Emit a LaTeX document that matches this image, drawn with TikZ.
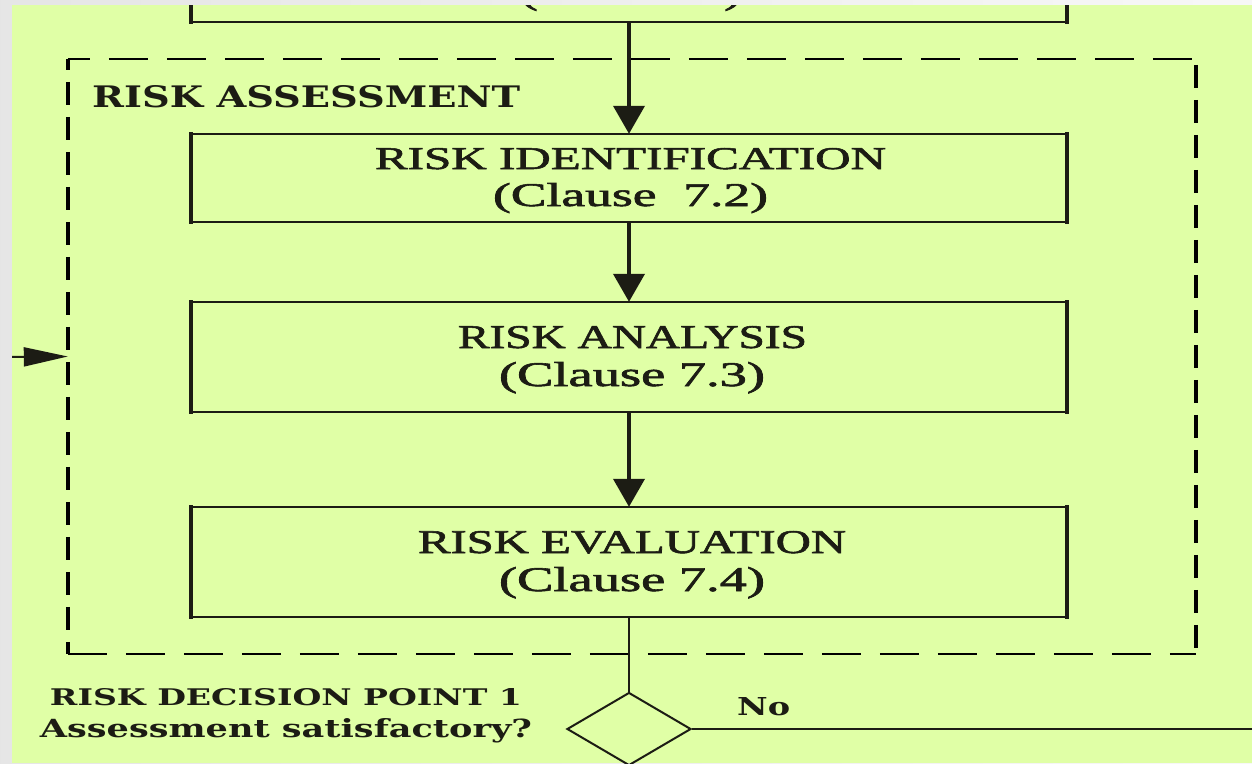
\documentclass[tikz,border=0pt]{standalone}
\usepackage{fontspec}
\usepackage{graphicx}
\setmainfont{Liberation Serif}[FakeBold=1.6]
\newfontfamily\labelfont{DejaVu Serif}
\usetikzlibrary{arrows.meta,shapes.geometric}

\definecolor{bg}{RGB}{224,255,166}
\definecolor{ink}{RGB}{28,28,20}

% stretch a text to a given width and height (in pt)
\newcommand\fitbox[3]{\resizebox{#1pt}{#2pt}{#3}}

% frame of a process box: horizontal sides thinner than vertical ones
\newcommand\stageframe[1]{%
  \draw[ink, line width=2.5pt, line cap=rect] (#1.north west) -- (#1.north east)
                                              (#1.south west) -- (#1.south east);
  \draw[ink, line width=3.5pt, line cap=rect] (#1.north west) -- (#1.south west)
                                              (#1.north east) -- (#1.south east);}

\tikzset{
  stage/.style={rectangle, draw=none, minimum width=876pt, inner sep=0pt},
  txt/.style={inner sep=0pt, anchor=base, text=ink},
  flow/.style={draw=ink, line width=4pt, -{Triangle[length=28pt,width=31pt]}},
  thinrule/.style={draw=ink, line width=2.5pt},
  hdash/.style={draw=black, line width=2pt, dash pattern=on 39pt off 19pt},
  vdash/.style={draw=black, line width=4pt, dash pattern=on 23pt off 12pt},
}

\begin{document}
\begin{tikzpicture}[x=1pt, y=-1pt]
\useasboundingbox (0,0) rectangle (1252,763);
\shade[left color=gray!20, right color=gray!6] (0,0) rectangle (1252,763);
\fill[bg] (12,5) rectangle (1252,763);

\begin{scope}
\clip (12,5) rectangle (1252,763);

% process boxes
\node[stage, minimum height=88pt]  (ctx) at (629,-22) {};
\node[stage, minimum height=88pt]  (id)  at (629,178) {};
\node[stage, minimum height=110pt] (an)  at (629,357) {};
\node[stage, minimum height=110pt] (ev)  at (629,562) {};
\stageframe{ctx}
\stageframe{id}
\stageframe{an}
\stageframe{ev}

\node[txt] (ctxb) at (631,3.5) {\fitbox{222}{24}{(Clause 6)}};
\node[txt] (ida)  at (630.5,169) {\fitbox{511}{21}{RISK IDENTIFICATION}};
\node[txt] (idb)  at (630.5,206) {\fitbox{275}{23}{(Clause\ \ 7.2)}};
\node[txt] (ana)  at (632.5,348) {\fitbox{349}{22}{RISK ANALYSIS}};
\node[txt] (anb)  at (632,386) {\fitbox{266}{24}{(Clause 7.3)}};
\node[txt] (eva)  at (632,553) {\fitbox{428}{22}{RISK EVALUATION}};
\node[txt] (evb)  at (632,591) {\fitbox{266}{24}{(Clause 7.4)}};

% risk assessment group
\node[rectangle, draw=none, inner sep=0pt, minimum width=1128pt, minimum height=595pt]
  (ra) at (632,356.5) {};
\draw[hdash, dash phase=17pt] (ra.north west) -- (ra.north east);
\draw[hdash] (ra.south west) -- (ra.south east);
\draw[vdash, dash phase=12pt] (ra.north west) -- (ra.south west);
\draw[vdash, dash phase=29pt] (ra.north east) -- (ra.south east);
\node[txt, anchor=base west] (ratitle) at (92,107)
  {\fitbox{428}{22}{\labelfont\bfseries RISK ASSESSMENT}};

% flow
\draw[flow] (ctx.south) -- (id.north);
\draw[flow] (id.south) -- (an.north);
\draw[flow] (an.south) -- (ev.north);

% decision point
\node[diamond, draw=ink, line width=2pt, inner sep=0pt,
      minimum width=124pt, minimum height=73pt] (dec) at (629,729) {};
\draw[thinrule] (ev.south) -- (dec.north);
\coordinate (rightedge) at (1256,729);
\draw[ink, line width=2pt] (dec.east) -- (rightedge);
\node[txt, anchor=base west] (no) at (737,715) {\fitbox{53}{18}{\labelfont\bfseries No}};
\node[txt] (decA) at (286,705) {\fitbox{472}{17}{\labelfont\bfseries RISK DECISION POINT 1}};
\node[txt] (decB) at (286,737) {\fitbox{492}{19}{\labelfont\bfseries Assessment satisfactory?}};

% feedback entering the assessment
\coordinate (leftedge) at (10,357);
\draw[ink, line width=2pt, -{Triangle[length=44pt,width=19pt]}] (leftedge) -- (ra.west);
\end{scope}
\end{tikzpicture}
\end{document}
